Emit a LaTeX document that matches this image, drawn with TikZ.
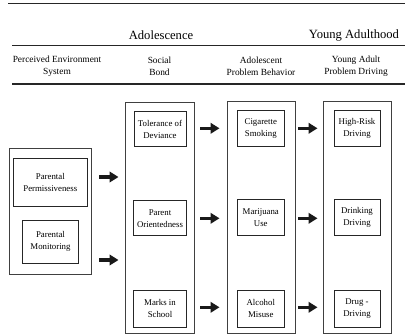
\documentclass[tikz,border=0pt]{standalone}
\usepackage{fontspec}
\setmainfont{Liberation Serif}
\usetikzlibrary{arrows.meta}
\begin{document}
\begin{tikzpicture}[x=1pt,y=-1pt,
  rule/.style={line width=1.1pt,draw=black!85},
  toprule/.style={line width=1.6pt,draw=black!85},
  period/.style={font=\fontsize{12.6}{14}\selectfont,inner sep=0pt},
  colhead/.style={font=\fontsize{9.4}{12}\selectfont,align=center,inner sep=0pt},
  group/.style={draw=black!75,line width=0.8pt},
  item/.style={draw=black!85,line width=1pt,font=\fontsize{8.8}{12}\selectfont,align=center,inner sep=0pt},
  fat/.style={line width=3.2pt,-{Triangle[length=9pt,width=10.5pt]},black!90,shorten >=0pt}
]
\useasboundingbox (0,0) rectangle (405,335);

% header rules
\coordinate (r0a) at (8,3.3);   \coordinate (r0b) at (405,3.3);
\coordinate (r1a) at (12,45.7); \coordinate (r1b) at (405,45.7);
\coordinate (r2a) at (12,84);   \coordinate (r2b) at (405,84);
\draw[toprule] (r0a) -- (r0b);
\draw[rule] (r1a) -- (r1b);
\draw[rule] (r2a) -- (r2b);

% period labels
\node[period] (adol) at (161,35) {Adolescence};
\node[period] (yad) at (354,35) {Young Adulthood};

% column headings
\node[colhead] (h1) at (57,66) {Perceived Environment\\System};
\node[colhead] (h2) at (159.5,66) {Social\\Bond};
\node[colhead] (h3) at (261,66) {Adolescent\\Problem Behavior};
\node[colhead] (h4) at (356,66) {Young Adult\\Problem Driving};

% group frames
\draw[group] (9.3,148.3) rectangle (91,274.3);
\draw[group] (125.5,102) rectangle (194,333);
\draw[group] (227.3,101.5) rectangle (295,333);
\draw[group] (323.3,101.5) rectangle (391,333);

% perceived environment
\node[item,minimum width=74pt,minimum height=47.7pt] (perm) at (50.3,182.2) {Parental\\Permissiveness};
\node[item,minimum width=55.6pt,minimum height=43.3pt] (mon) at (50.5,241.7) {Parental\\Monitoring};

% social bond
\node[item,minimum width=52pt,minimum height=35.5pt] (tol) at (160,129.2) {Tolerance of\\Deviance};
\node[item,minimum width=53pt,minimum height=35.5pt] (par) at (160,218.2) {Parent\\Orientedness};
\node[item,minimum width=52.5pt,minimum height=37pt] (marks) at (160,308.5) {Marks in\\School};

% adolescent problem behavior
\node[item,minimum width=46.7pt,minimum height=35.5pt] (cig) at (260.8,128.5) {Cigarette\\Smoking};
\node[item,minimum width=46.7pt,minimum height=35.5pt] (mar) at (260.8,217.5) {Marijuana\\Use};
\node[item,minimum width=46.7pt,minimum height=37pt] (alc) at (260.8,308.5) {Alcohol\\Misuse};

% young adult problem driving
\node[item,minimum width=46pt,minimum height=36pt] (hrd) at (357,128.7) {High-Risk\\Driving};
\node[item,minimum width=46pt,minimum height=36pt] (drk) at (357,217.7) {Drinking\\Driving};
\node[item,minimum width=46pt,minimum height=37pt] (drg) at (357,308.5) {Drug -\\Driving};

% block arrows between columns
\coordinate (e1a) at (99,177);   \coordinate (e1b) at (118.5,177);
\coordinate (e2a) at (99,260);   \coordinate (e2b) at (118.5,260);
\coordinate (s1a) at (200,128.3); \coordinate (s1b) at (219.5,128.3);
\coordinate (s2a) at (200,218.3); \coordinate (s2b) at (219.5,218.3);
\coordinate (s3a) at (200,307.3); \coordinate (s3b) at (219.5,307.3);
\coordinate (p1a) at (298,128.3); \coordinate (p1b) at (317.5,128.3);
\coordinate (p2a) at (298,218.3); \coordinate (p2b) at (317.5,218.3);
\coordinate (p3a) at (298,307.3); \coordinate (p3b) at (317.5,307.3);
\foreach \a in {e1,e2,s1,s2,s3,p1,p2,p3}
  \draw[fat] (\a a) -- (\a b);
\end{tikzpicture}
\end{document}
